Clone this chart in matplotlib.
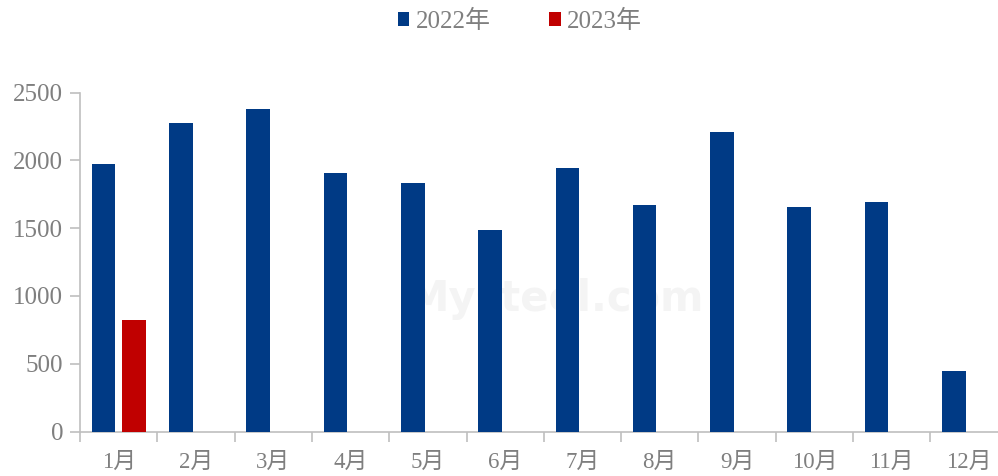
import numpy as np
import matplotlib
matplotlib.use('Agg')
import matplotlib.pyplot as plt

plt.rcParams['font.family'] = ['Liberation Serif', 'Noto Sans CJK SC']

# Colors
BLUE = '#003A85'
RED = '#C00000'
GREY = '#7F7F7F'
AXIS = '#BFBFBF'

months = ['1月', '2月', '3月', '4月', '5月', '6月', '7月', '8月', '9月', '10月', '11月', '12月']
vals_2022 = [1975, 2280, 2378, 1905, 1830, 1490, 1941, 1668, 2208, 1653, 1690, 447]
vals_2023 = [825]
series_names = ['2022年', '2023年']

fig = plt.figure(figsize=(9.98, 4.76), dpi=100)
# axes spans past the right edge like the original
ax = fig.add_axes([80 / 998, 1 - 431.5 / 476, 927.6 / 998, (431.5 - 92.7) / 476])

x = np.arange(1, len(months) + 1)
ax.bar(x - 0.195, vals_2022, width=0.305, color=BLUE, label=series_names[0], zorder=3)
ax.bar(x[:len(vals_2023)] + 0.195, vals_2023, width=0.305, color=RED, label=series_names[1], zorder=3)

# faint watermark
ax.text(0.512, 0.39, 'Mysteel.com', transform=ax.transAxes, fontsize=30, color='#F4F4F4',
        ha='center', va='center', family='DejaVu Sans', fontweight='bold', zorder=1)

ax.set_xlim(0.5, 12.5)
ax.set_ylim(0, 2500)
ax.set_yticks(range(0, 2501, 500))
ax.set_xticks(np.arange(0.5, 12.6, 1))
ax.set_xticklabels([])
ax.set_xticks(x, minor=True)
ax.set_xticklabels(months, minor=True)
ax.tick_params(axis='x', which='minor', length=0, pad=15, labelsize=16.5, labelcolor=GREY)
ax.tick_params(axis='x', which='major', length=7, color=AXIS, width=1.2)
ax.tick_params(axis='y', length=7, color=AXIS, width=1.2, labelsize=18, labelcolor=GREY, pad=5)

for s in ['top', 'right']:
    ax.spines[s].set_visible(False)
for s in ['left', 'bottom']:
    ax.spines[s].set_color(AXIS)
    ax.spines[s].set_linewidth(1.2)

fig.legend(loc='center', bbox_to_anchor=(520 / 998, 1 - 21 / 476), ncol=2, frameon=False,
           fontsize=18, labelcolor=GREY, handlelength=0.45, handleheight=0.5,
           handletextpad=0.25, columnspacing=2.35, borderpad=0)

fig.savefig('out.png', dpi=100)
